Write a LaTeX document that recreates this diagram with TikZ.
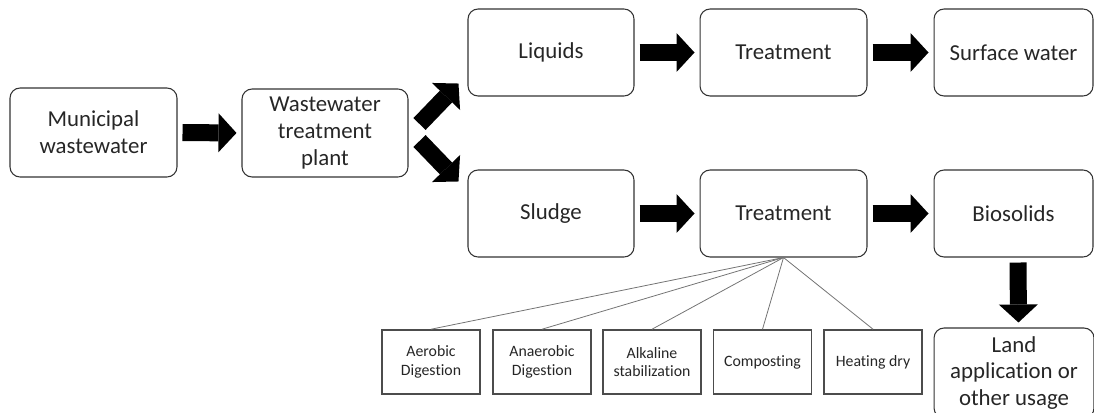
\documentclass[tikz,border=0pt]{standalone}
\usepackage{fontspec}
\setmainfont{Carlito}[Ligatures=NoCommon]
\usetikzlibrary{calc}
\usetikzlibrary{arrows.meta}

\begin{document}
\begin{tikzpicture}[x=0.02cm, y=-0.02cm,
    flowbox/.style={draw=black!80, line width=0.6pt, rounded corners=0.2cm, align=center, inner sep=0pt, text=black!85, font=\fontsize{13}{15.3}\selectfont, minimum height=1.74cm},
    methodbox/.style={draw=black!70, line width=0.9pt, align=center, inner sep=0pt, text=black!85, font=\fontsize{9}{10.5}\selectfont, minimum width=1.96cm, minimum height=1.28cm},
    bigarrow/.style={line width=0.34cm, -{Triangle[width=0.78cm, length=0.36cm, line width=0pt]}, shorten <=0.1cm, shorten >=0.1cm},
    branch/.style={draw=black!55, line width=0.45pt}]

    \useasboundingbox (0, 0) rectangle (1094, 412);

    % main flow
    \node[flowbox, minimum width=3.34cm, minimum height=1.78cm] (municipal) at (93.5, 132.5) {Municipal\\wastewater};
    \node[flowbox, minimum width=3.32cm, minimum height=1.76cm] (wwtp) at (325, 133) {Wastewater\\treatment\\plant};

    \node[flowbox, minimum width=3.32cm] (liquids) at (551, 52.5) {Liquids};
    \node[flowbox, minimum width=3.34cm] (treatliq) at (783.5, 52.5) {Treatment};
    \node[flowbox, minimum width=3.18cm] (surface) at (1013.5, 52.5) {Surface water};

    \node[flowbox, minimum width=3.32cm] (sludge) at (551, 213.5) {Sludge};
    \node[flowbox, minimum width=3.34cm] (treatsludge) at (783.5, 213.5) {Treatment};
    \node[flowbox, minimum width=3.18cm] (biosolids) at (1013.5, 213.5) {Biosolids};
    \node[flowbox, minimum width=3.2cm, minimum height=1.8cm] (land) at (1014, 373) {Land\\application or\\other usage};

    % sludge treatment options
    \node[methodbox] (aerobic) at (431, 362) {Aerobic\\Digestion};
    \node[methodbox] (anaerobic) at (542, 362) {Anaerobic\\Digestion};
    \node[methodbox] (alkaline) at (652, 362) {Alkaline\\stabilization};
    \node[methodbox] (composting) at (762.5, 362) {Composting};
    \node[methodbox] (heating) at (873, 362) {Heating dry};

    \draw[branch] (treatsludge.south) -- (aerobic.north);
    \draw[branch] (treatsludge.south) -- (anaerobic.north);
    \draw[branch] (treatsludge.south) -- (alkaline.north);
    \draw[branch] (treatsludge.south) -- (composting.north);
    \draw[branch] (treatsludge.south) -- (heating.north);

    % block arrows
    \draw[bigarrow] (municipal.east) -- (wwtp.west);
    \draw[bigarrow, shorten <=0pt, shorten >=0pt] ([xshift=0.22cm, yshift=0.18cm]wwtp.east) -- ([xshift=-0.18cm, yshift=0.26cm]liquids.south west);
    \draw[bigarrow, shorten <=0pt, shorten >=0pt] ([xshift=0.22cm, yshift=-0.16cm]wwtp.east) -- ([xshift=-0.18cm, yshift=-0.24cm]sludge.north west);
    \draw[bigarrow] (liquids.east) -- (treatliq.west);
    \draw[bigarrow] (treatliq.east) -- (surface.west);
    \draw[bigarrow] (sludge.east) -- (treatsludge.west);
    \draw[bigarrow] (treatsludge.east) -- (biosolids.west);
    \draw[bigarrow] ([xshift=0.09cm]biosolids.south) -- ([xshift=0.09cm]land.north);

\end{tikzpicture}
\end{document}
